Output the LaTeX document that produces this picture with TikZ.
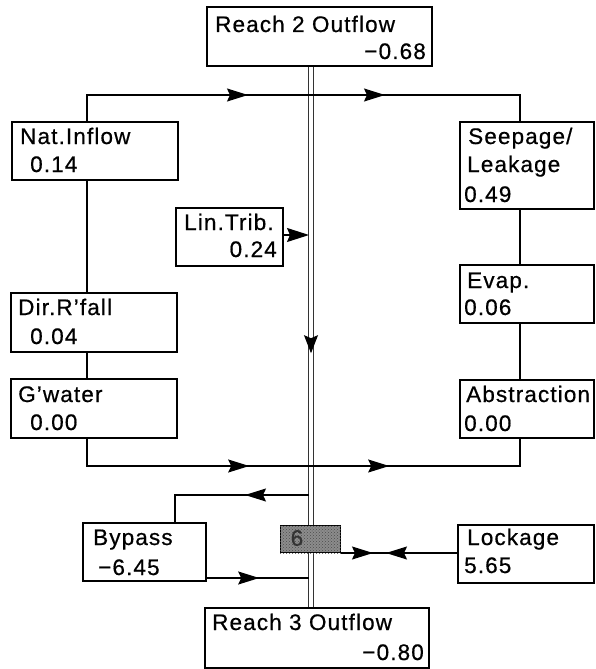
\documentclass[tikz,border=0pt]{standalone}
\usepackage{fontspec}
\setmainfont[LetterSpace=5,FakeBold=0.6]{Liberation Sans}
\usetikzlibrary{arrows.meta,decorations.markings,patterns,calc}
\begin{document}
\begin{tikzpicture}[x=1pt,y=-1pt,
  Stl/.tip={Stealth[length=21pt,width=13pt,inset=3pt]},
  Sts/.tip={Stealth[length=18pt,width=14pt,inset=3pt]},
  box/.style={draw, line width=1.2pt, fill=white, rectangle, anchor=north west, inner sep=0pt},
  txt/.style={inner sep=0pt, font=\fontsize{22.5}{26}\selectfont},
  flow/.style={line width=1.3pt},
  chan/.style={draw=black!80, double=white, double distance=3.2pt, line width=1.1pt},
  twomarks/.style 2 args={postaction={decorate}, decoration={markings,
      mark=at position #1 with {\arrow{Stl}}, mark=at position #2 with {\arrow{Stl}}}},
  onemark/.style={postaction={decorate}, decoration={markings,
      mark=at position #1 with {\arrow{Stl}}}}
]
\useasboundingbox (0,0) rectangle (595,669);

% reference coordinates
\coordinate (mx) at (311,0);
\coordinate (lx) at (87,0);
\coordinate (rx) at (520,0);
\coordinate (top) at (0,95);
\coordinate (bot) at (0,466);
\coordinate (bpt) at (0,495);
\coordinate (bpx) at (175,0);
\coordinate (trib) at (0,235);
\coordinate (mxl) at (309,0);
\coordinate (bret) at (0,578);

% boxes (geometry)
\node[box, minimum width=224pt, minimum height=58pt] (r2) at (207,7) {};
\node[box, minimum width=165pt, minimum height=57pt] (nat) at (12,122) {};
\node[box, minimum width=106pt, minimum height=57pt] (lin) at (176,208) {};
\node[box, minimum width=133pt, minimum height=86pt] (seep) at (460,122) {};
\node[box, minimum width=133pt, minimum height=57pt] (evap) at (460,265) {};
\node[box, minimum width=133pt, minimum height=57pt] (abs) at (460,380) {};
\node[box, minimum width=165pt, minimum height=58pt] (dir) at (11,293) {};
\node[box, minimum width=165pt, minimum height=58pt] (gw) at (11,379) {};
\node[box, minimum width=122pt, minimum height=57pt] (byp) at (83,523) {};
\node[box, minimum width=135pt, minimum height=57pt] (lock) at (458,525) {};
\node[box, minimum width=223pt, minimum height=59pt] (r3) at (205,608) {};

% main channel
\draw[chan] (r2.south -| mx) -- (r3.north -| mx);
\path[postaction={decorate}, decoration={markings,
   mark=at position 287pt with {\arrow[line width=1pt]{Sts}}}]
   (r2.south -| mx) -- (r3.north -| mx);

% upper loop
\draw[flow, twomarks={188pt}{325pt}] (nat.north -| lx) -- (lx |- top) -- (rx |- top) -- (seep.north -| rx);
% lower loop
\draw[flow, twomarks={190pt}{330pt}] (gw.south -| lx) -- (lx |- bot) -- (rx |- bot) -- (abs.south -| rx);
% left column
\draw[flow] (nat.south -| lx) -- (dir.north -| lx);
\draw[flow] (dir.south -| lx) -- (gw.north -| lx);
% right column
\draw[flow] (seep.south -| rx) -- (evap.north -| rx);
\draw[flow] (evap.south -| rx) -- (abs.north -| rx);
% lin trib
\draw[flow, -{Stealth[length=22pt,width=14pt,inset=3pt]}] (lin.east |- trib) -- (mxl |- trib);
% bypass out
\draw[flow, onemark=64pt] (mxl |- bpt) -- (bpx |- bpt) -- (byp.north -| bpx);
% bypass return
\draw[flow, onemark=53pt] (byp.east |- bret) -- (mxl |- bret);

% stock box
\node[box, minimum width=60pt, minimum height=27pt, line width=1pt,
      fill=black!45] (stock) at (280,525) {};
\fill[pattern=crosshatch dots, pattern color=black!70] (stock.north west) rectangle (stock.south east);
\node[txt, text=black!80] (six) at (297,538) {6};

% lockage
\draw[flow, postaction={decorate}, decoration={markings,
   mark=at position 32pt with {\arrow{Stl}},
   mark=at position 45pt with {\arrowreversed{Stl}}}]
   (stock.south east) -- (lock.west |- stock.south east);

% box borders on top
\foreach \b in {r2,nat,lin,seep,evap,abs,dir,gw,byp,lock,r3}{
  \draw[line width=1.2pt] (\b.north west) rectangle (\b.south east);
}

% texts
\node[txt, anchor=base west] (t1) at (215,32) {Reach 2 Outflow};
\node[txt, anchor=base east] (t2) at (426,59) {−0.68};
\node[txt, anchor=base west] (t3) at (20,144) {Nat.Inflow};
\node[txt, anchor=base west] (t4) at (30,172) {0.14};
\node[txt, anchor=base west] (t5) at (184,230) {Lin.Trib.};
\node[txt, anchor=base east] (t6) at (277,257) {0.24};
\node[txt, anchor=base west] (t7) at (468,144) {Seepage/};
\node[txt, anchor=base west] (t8) at (467,172) {Leakage};
\node[txt, anchor=base west] (t9) at (464,202) {0.49};
\node[txt, anchor=base west] (t10) at (467,288) {Evap.};
\node[txt, anchor=base west] (t11) at (464,315) {0.06};
\node[txt, anchor=base west] (t12) at (466,402) {Abstraction};
\node[txt, anchor=base west] (t13) at (464,431) {0.00};
\node[txt, anchor=base west] (t14) at (18,315) {Dir.R'fall};
\node[txt, anchor=base west] (t15) at (30,344) {0.04};
\node[txt, anchor=base west] (t16) at (18,402) {G'water};
\node[txt, anchor=base west] (t17) at (30,430) {0.00};
\node[txt, anchor=base west] (t18) at (93,545) {Bypass};
\node[txt, anchor=base west] (t19) at (98,575) {−6.45};
\node[txt, anchor=base west] (t20) at (467,545) {Lockage};
\node[txt, anchor=base west] (t21) at (464,573) {5.65};
\node[txt, anchor=base west] (t22) at (212,630) {Reach 3 Outflow};
\node[txt, anchor=base east] (t23) at (424,660) {−0.80};
\end{tikzpicture}
\end{document}
